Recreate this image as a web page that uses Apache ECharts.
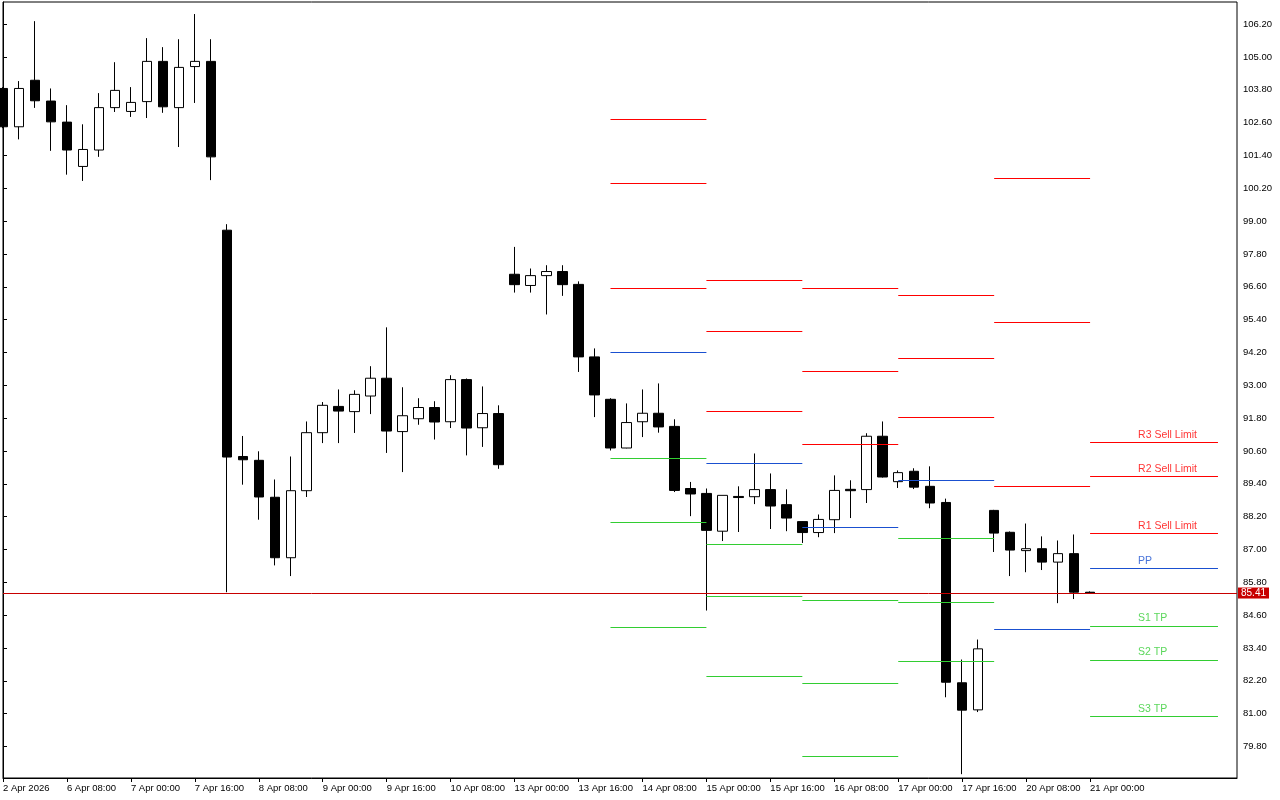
<!DOCTYPE html>
<html><head><meta charset="utf-8">
<script src="https://cdn.jsdelivr.net/npm/echarts@6/dist/echarts.min.js"></script>
<style>html,body{margin:0;padding:0;background:#fff}#c{width:1280px;height:800px}</style>
</head><body><div id="c"></div>
<script>
// ---- Candles (H4 bars, index = bar position) ----
const open  = [103.85,102.45,104.15,103.39,102.62,101.00,101.60,103.15,103.01,103.37,104.84,103.15,104.65,104.84,98.67,90.40,90.26,88.91,86.70,89.15,91.27,92.23,92.04,92.61,93.26,91.31,91.78,92.19,91.67,93.21,91.45,91.97,97.06,96.65,97.01,97.16,96.69,94.04,92.49,90.71,91.67,91.98,91.50,89.23,89.05,87.67,88.94,88.93,89.19,88.64,88.02,87.62,88.09,89.20,89.19,91.14,89.48,89.86,89.31,88.72,82.13,81.14,88.43,87.63,86.96,87.03,86.54,86.85,85.44];
const close = [102.45,103.85,103.40,102.63,101.60,101.62,103.15,103.78,103.34,104.84,103.18,104.62,104.84,101.35,90.38,90.28,88.92,86.70,89.15,91.27,92.27,92.06,92.67,93.26,91.33,91.89,92.19,91.66,93.21,91.44,91.97,90.10,96.68,97.01,97.16,96.68,94.04,92.65,90.71,91.64,91.98,91.48,89.16,89.03,87.70,88.98,88.90,89.19,88.59,88.15,87.62,88.10,89.16,89.15,91.14,89.65,89.81,89.28,88.70,82.15,81.13,83.37,87.60,86.98,87.03,86.54,86.85,85.44,85.41];
const low   = [102.40,101.99,103.14,101.57,100.70,100.47,101.35,102.99,102.81,102.77,102.96,101.71,103.32,100.50,85.44,89.37,88.09,86.42,86.03,88.92,90.89,90.89,91.26,91.95,90.53,89.83,91.56,91.02,91.44,90.44,90.75,89.95,96.39,96.39,95.59,96.27,93.49,91.84,90.62,90.70,91.11,91.27,89.10,88.22,84.77,87.31,87.64,88.66,87.75,87.67,87.24,87.45,87.60,88.15,88.70,89.63,89.25,89.21,88.51,81.60,78.79,81.06,86.91,86.03,86.17,86.25,85.04,85.19,85.40];
const high  = [103.90,104.12,106.31,103.85,103.24,102.54,103.68,104.81,103.90,105.69,105.36,105.65,106.57,105.65,98.89,91.15,90.59,89.56,90.40,91.68,92.39,92.85,92.82,93.70,95.12,92.93,92.53,92.42,93.37,93.25,92.96,92.27,98.06,97.27,97.39,97.39,96.80,94.35,92.53,92.34,92.85,93.07,91.76,89.47,89.23,88.98,89.31,90.51,89.78,89.20,88.03,88.28,89.71,89.53,91.25,91.68,89.89,89.97,90.04,88.86,82.98,83.71,88.45,87.66,87.95,87.48,87.33,87.55,85.47];
const lastPrice = 85.41;

// ---- Axis ticks ----
const xTickPos    = [0,4,8,12,16,20,24,28,32,36,40,44,48,52,56,60,64,68];
const xTickLabels = ['2 Apr 2026','6 Apr 08:00','7 Apr 00:00','7 Apr 16:00','8 Apr 08:00','9 Apr 00:00','9 Apr 16:00','10 Apr 08:00','13 Apr 00:00','13 Apr 16:00','14 Apr 08:00','15 Apr 00:00','15 Apr 16:00','16 Apr 08:00','17 Apr 00:00','17 Apr 16:00','20 Apr 08:00','21 Apr 00:00'];
const yTicks = [79.80,81.00,82.20,83.40,84.60,85.80,87.00,88.20,89.40,90.60,91.80,93.00,94.20,95.40,96.60,97.80,99.00,100.20,101.40,102.60,103.80,105.00,106.20];

// ---- Daily pivot levels (segment start / end bar) ----
const dayStart = [38,44,50,56,62,68];
const dayEnd   = [44,50,56,62,68,76];
const r3 = [102.73,96.84,96.55,96.29,100.57,90.91];
const r2 = [100.39,94.98,93.51,93.99,95.30,89.66];
const r1 = [96.55,92.04,90.84,91.83,89.33,87.58];
const pp = [94.21,90.14,87.80,89.52,84.07,86.31];
const s1 = [90.33,87.18,85.13,87.40,null,84.21];
const s2 = [88.00,85.31,82.10,85.09,null,82.97];
const s3 = [84.15,82.36,79.44,82.93,null,80.90];
const levelLabels = ['R3 Sell Limit','R2 Sell Limit','R1 Sell Limit','PP','S1 TP','S2 TP','S3 TP'];
const labelBar = 71;

const FONT = 'Liberation Sans';
const RED = '#ff0000', BLUE = '#1a50d0', GREEN = '#32cd32', PRICE = '#c80000';
const levels = [r3, r2, r1, pp, s1, s2, s3];
const levelColors = [RED, RED, RED, BLUE, GREEN, GREEN, GREEN];

const candleData = open.map((o, i) => [i, o, close[i], low[i], high[i]]);

// one lines-series per colour so every segment gets its colour from the series
const colorGroups = [RED, BLUE, GREEN];
const lineSeries = colorGroups.map(col => {
  const segs = [];
  levels.forEach((arr, li) => {
    if (levelColors[li] !== col) return;
    arr.forEach((v, d) => {
      if (v == null) return;
      segs.push({ coords: [[dayStart[d], v], [dayEnd[d], v]] });
    });
  });
  return {
    type: 'lines', coordinateSystem: 'cartesian2d', polyline: false, silent: true,
    lineStyle: { width: 1, opacity: 1, color: col },
    data: segs, z: 3
  };
});

const last = dayStart.length - 1;
const labelData = levels.map((arr, li) => ({
  value: [labelBar, arr[last]],
  label: { color: levelColors[li], formatter: levelLabels[li] }
}));

const chart = echarts.init(document.getElementById('c'), null, { renderer: 'canvas' });
chart.setOption({
  animation: false,
  backgroundColor: '#fff',
  grid: { left: 2, top: 2, right: 43, bottom: 22, show: true, borderColor: '#000', borderWidth: 1, backgroundColor: '#fff' },
  xAxis: {
    type: 'value', min: 0, max: 77.19,
    axisLine: { show: true, lineStyle: { color: '#000', width: 1 } },
    axisTick: { show: true, length: 4, customValues: xTickPos, lineStyle: { color: '#000' } },
    axisLabel: {
      customValues: xTickPos,
      formatter: v => xTickLabels[xTickPos.indexOf(Math.round(v))] || '',
      align: 'left', margin: 5, color: '#000', fontFamily: FONT, fontSize: 9.5
    },
    splitLine: { show: false }
  },
  yAxis: {
    type: 'value', position: 'right', min: 78.65, max: 107.01,
    axisLine: { show: true, lineStyle: { color: '#000', width: 1 } },
    axisTick: { show: true, length: 4, customValues: yTicks, lineStyle: { color: '#000' } },
    axisLabel: {
      customValues: yTicks,
      formatter: v => Number(v).toFixed(2),
      margin: 6, color: '#000', fontFamily: FONT, fontSize: 9.5
    },
    splitLine: { show: false }
  },
  series: [
    {
      type: 'candlestick',
      data: candleData,
      encode: { x: 0, y: [1, 2, 3, 4] },
      barWidth: 10,
      itemStyle: { color: '#fff', color0: '#000', borderColor: '#000', borderColor0: '#000', borderWidth: 1 },
      z: 2,
      markLine: {
        symbol: ['none', 'none'], silent: true, animation: false, z: 5,
        data: [{ yAxis: lastPrice }],
        lineStyle: { color: PRICE, type: 'solid', width: 1 },
        label: {
          show: true, position: 'end', distance: 1,
          formatter: lastPrice.toFixed(2),
          backgroundColor: PRICE, color: '#fff', fontFamily: FONT, fontSize: 10,
          padding: [1, 3, 0, 3]
        }
      }
    },
    ...lineSeries,
    {
      type: 'scatter', symbolSize: 0, silent: true, z: 4,
      data: labelData,
      label: { show: true, position: [0, -13], align: 'left', verticalAlign: 'top', fontFamily: FONT, fontSize: 10.5 }
    }
  ]
});
</script>
</body></html>
